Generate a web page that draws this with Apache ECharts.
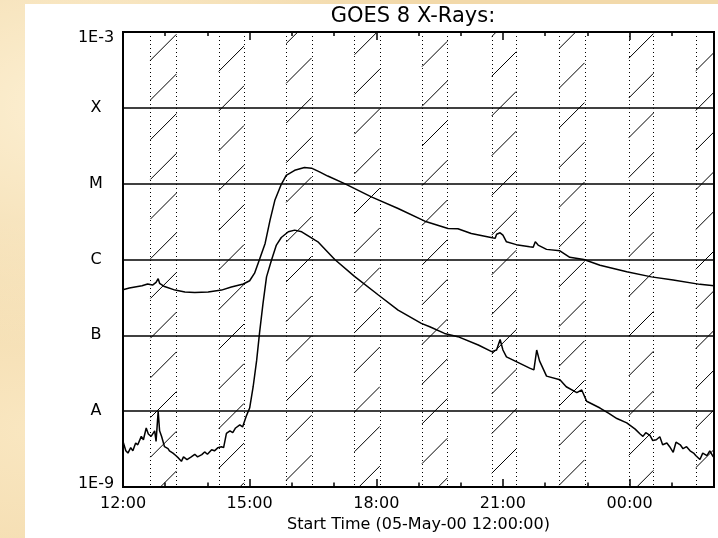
<!DOCTYPE html>
<html><head><meta charset="utf-8">
<script src="https://cdn.jsdelivr.net/npm/echarts@6/dist/echarts.min.js"></script>
<style>
html,body{margin:0;padding:0;width:718px;height:538px;overflow:hidden;}
body{background-color:#f2d9aa;
background-image:
 radial-gradient(ellipse at 10% 20%, rgba(255,245,220,0.8) 0%, rgba(255,245,220,0) 40%),
 radial-gradient(ellipse at 80% 70%, rgba(236,200,140,0.6) 0%, rgba(236,200,140,0) 45%),
 radial-gradient(ellipse at 5% 80%, rgba(250,232,195,0.9) 0%, rgba(250,232,195,0) 35%);}
#paper{position:absolute;left:25px;top:4px;right:0;bottom:0;background:#fff;}
#chart{position:absolute;left:0;top:0;width:718px;height:538px;}
</style></head>
<body><div id="paper"></div><div id="chart"></div>
<script>
// minutes after 05-May-00 12:00
const timesLong = [0,9,17,27,35,42,47,50,52,59,74,88,102,121,140,154,171,180,187,194,202,209,216,225,232,244,258,268,280,291,315,353,391,429,462,476,495,523,529,531,536,540,545,559,578,583,586,590,602,621,635,655,678,716,751,782,820,840];
const fluxLong = [4.0e-7,4.2e-7,4.35e-7,4.5e-7,4.75e-7,4.6e-7,5.0e-7,5.6e-7,4.85e-7,4.4e-7,3.95e-7,3.72e-7,3.68e-7,3.72e-7,3.95e-7,4.35e-7,4.75e-7,5.25e-7,6.6e-7,1.0e-6,1.63e-6,3.3e-6,6.1e-6,9.8e-6,1.29e-5,1.5e-5,1.63e-5,1.6e-5,1.42e-5,1.26e-5,1.0e-5,6.7e-6,4.7e-6,3.2e-6,2.57e-6,2.55e-6,2.2e-6,1.95e-6,1.9e-6,2.15e-6,2.25e-6,2.1e-6,1.71e-6,1.57e-6,1.47e-6,1.45e-6,1.72e-6,1.55e-6,1.36e-6,1.3e-6,1.07e-6,1.0e-6,8.4e-7,6.9e-7,5.9e-7,5.35e-7,4.7e-7,4.5e-7];
const timesShort = [0,4,7,11,14,18,21,26,29,33,36,40,45,47,50,52,55,59,64,66,71,75,79,83,86,91,97,102,106,112,116,120,126,130,135,140,143,147,152,156,160,166,170,175,180,185,190,194,199,204,211,218,225,235,244,254,258,273,277,301,329,363,391,424,436,457,476,505,524,531,536,538,540,545,559,578,584,588,592,602,621,630,645,652,659,678,690,702,716,728,735,739,743,749,753,758,763,767,773,777,782,786,792,796,801,806,811,814,820,824,830,834,839];
const fluxShort = [4.0e-9,3.0e-9,2.8e-9,3.3e-9,3.0e-9,3.8e-9,3.6e-9,4.65e-9,4.2e-9,6.0e-9,5.0e-9,4.65e-9,5.5e-9,4.0e-9,1.0e-8,5.5e-9,4.6e-9,3.4e-9,3.2e-9,3.0e-9,2.8e-9,2.6e-9,2.4e-9,2.18e-9,2.5e-9,2.3e-9,2.5e-9,2.7e-9,2.5e-9,2.67e-9,2.9e-9,2.7e-9,3.1e-9,3.0e-9,3.3e-9,3.4e-9,3.3e-9,5.1e-9,5.5e-9,5.2e-9,6.0e-9,6.6e-9,6.2e-9,8.5e-9,1.1e-8,2.1e-8,4.7e-8,1.06e-7,2.64e-7,5.9e-7,9.8e-7,1.55e-6,1.95e-6,2.32e-6,2.44e-6,2.32e-6,2.2e-6,1.8e-6,1.71e-6,1.0e-6,6.0e-7,3.4e-7,2.15e-7,1.44e-7,1.3e-7,1.06e-7,9.6e-8,7.45e-8,6.1e-8,6.4e-8,8.8e-8,7.5e-8,6.4e-8,5.2e-8,4.5e-8,3.7e-8,3.5e-8,6.4e-8,4.6e-8,2.9e-8,2.6e-8,2.1e-8,1.76e-8,1.9e-8,1.35e-8,1.1e-8,9.4e-9,8.0e-9,7.0e-9,5.8e-9,5.0e-9,4.65e-9,5.2e-9,4.8e-9,4.1e-9,4.2e-9,4.6e-9,3.6e-9,3.8e-9,3.4e-9,2.87e-9,3.9e-9,3.6e-9,3.2e-9,3.4e-9,3.0e-9,2.8e-9,2.6e-9,2.3e-9,2.8e-9,2.6e-9,3.0e-9,2.5e-9];
// hatched intervals (start, end) in minutes
const nightStart = [39,136,232,329,425,524,620,719,814];
const nightEnd   = [76,172,268,365,461,559,656,754,850];
const xTickLabels = ['12:00','15:00','18:00','21:00','00:00'];
const yTickLabels = ['1E-9','A','B','C','M','X','1E-3'];

const FONT = 'DejaVu Sans';
const HATCH_STEP = 39.7, HATCH_PHASE = 16;

function zipPts(t, v){ return t.map((x,i)=>[x, v[i]]); }

const chart = echarts.init(document.getElementById('chart'), null, {renderer:'canvas'});

function hatch(params, api){
  const cs = params.coordSys;
  const L = cs.x, R = cs.x + cs.width, T = cs.y, B = cs.y + cs.height;
  const xa = api.coord([api.value(0), 1e-6])[0];
  const xb = api.coord([api.value(1), 1e-6])[0];
  const a = Math.max(xa, L), b = Math.min(xb, R);
  const children = [];
  const dot = {stroke:'#000', lineWidth:1, lineDash:[1,3], fill:null};
  [xa, xb].forEach(x => {
    if (x >= L && x <= R) {
      const px = Math.round(x) + 0.5;
      children.push({type:'line', shape:{x1:px, y1:T, x2:px, y2:B}, style:dot});
    }
  });
  if (b > a) {
    const base = L + T + HATCH_PHASE;
    let k = Math.floor((a + T - base) / HATCH_STEP);
    for (;; k++) {
      const c = base + k * HATCH_STEP;
      if (c > b + B) break;
      const x1 = Math.max(a, c - B), x2 = Math.min(b, c - T);
      if (x2 > x1) children.push({type:'line', shape:{x1:x1, y1:c - x1, x2:x2, y2:c - x2}, style:{stroke:'#000', lineWidth:1}});
    }
  }
  return {type:'group', children};
}

const grid = {left:123, top:32, width:591, height:455, show:true, borderColor:'#000', borderWidth:2, backgroundColor:'transparent'};
const baseX = {type:'value', min:0, max:840, gridIndex:0, axisLine:{show:false}, splitLine:{show:false}};

const option = {
  animation:false,
  backgroundColor:'transparent',
  title:{text:'GOES 8 X-Rays:', left:413, top:6, textAlign:'center', padding:0,
    textStyle:{fontFamily:FONT, fontSize:21, fontWeight:'normal', color:'#000'}},
  grid: grid,
  xAxis:[
    Object.assign({}, baseX, {position:'bottom', interval:180,
      axisTick:{show:true, inside:true, length:8, lineStyle:{color:'#000', width:1.5}},
      axisLabel:{show:true, margin:9, fontFamily:FONT, fontSize:16, color:'#000',
        formatter: v => xTickLabels[Math.round(v/180)] || ''},
      name:'Start Time (05-May-00 12:00:00)', nameLocation:'middle', nameGap:27,
      nameTextStyle:{fontFamily:FONT, fontSize:16, color:'#000'}}),
    Object.assign({}, baseX, {position:'bottom', interval:60,
      axisTick:{show:true, inside:true, length:4.5, lineStyle:{color:'#000', width:1.5}},
      axisLabel:{show:false}}),
    Object.assign({}, baseX, {position:'top', interval:180,
      axisTick:{show:true, inside:true, length:8, lineStyle:{color:'#000', width:1.5}},
      axisLabel:{show:false}}),
    Object.assign({}, baseX, {position:'top', interval:60,
      axisTick:{show:true, inside:true, length:4, lineStyle:{color:'#000', width:1.5}},
      axisLabel:{show:false}})
  ],
  yAxis:{type:'log', logBase:10, min:1e-9, max:1e-3, interval:1,
    axisLine:{show:false}, axisTick:{show:false},
    splitLine:{show:true, lineStyle:{color:'#000', width:1.5}},
    axisLabel:{show:true, showMinLabel:true, showMaxLabel:true, align:'center', margin:27,
      fontFamily:FONT, fontSize:16, color:'#000',
      formatter: v => {
        const i = Math.round(Math.log10(v)) + 9;
        const t = yTickLabels[i] || '';
        if (i === 6) return '{tp|' + t + '}';
        if (i === 0) return '{bt|' + t + '}';
        return t;
      },
      rich:{
        tp:{fontFamily:FONT, fontSize:16, color:'#000', padding:[12,0,0,0]},
        bt:{fontFamily:FONT, fontSize:16, color:'#000', padding:[0,0,6,0]}
      }}
  },
  series:[
    {type:'custom', xAxisIndex:0, yAxisIndex:0, renderItem:hatch, clip:true, silent:true,
      encode:{x:[0,1]}, data: nightStart.map((s,i)=>[s, nightEnd[i]]), z:1},
    {type:'line', xAxisIndex:0, yAxisIndex:0, data:zipPts(timesLong, fluxLong), showSymbol:false,
      lineStyle:{color:'#000', width:1.5}, clip:true, z:3},
    {type:'line', xAxisIndex:0, yAxisIndex:0, data:zipPts(timesShort, fluxShort), showSymbol:false,
      lineStyle:{color:'#000', width:1.5}, clip:true, z:3}
  ]
};
chart.setOption(option);
</script>
</body></html>
